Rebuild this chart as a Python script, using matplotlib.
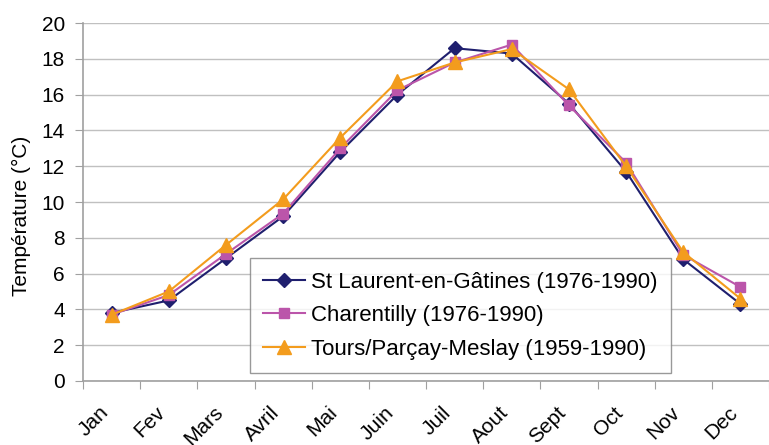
import matplotlib
matplotlib.use("Agg")
import matplotlib.pyplot as plt
import matplotlib.transforms as mtransforms

plt.rcParams['font.family'] = ['Liberation Sans', 'DejaVu Sans']

months = ['Jan', 'Fev', 'Mars', 'Avril', 'Mai', 'Juin', 'Juil', 'Aout', 'Sept', 'Oct', 'Nov', 'Dec']
st_laurent = [3.8, 4.5, 6.85, 9.2, 12.8, 16.0, 18.6, 18.3, 15.5, 11.7, 6.8, 4.3]
charentilly = [3.7, 4.8, 7.1, 9.35, 13.0, 16.25, 17.8, 18.8, 15.4, 12.2, 7.05, 5.25]
tours = [3.7, 5.0, 7.6, 10.15, 13.6, 16.75, 17.8, 18.55, 16.3, 12.0, 7.2, 4.6]

fig = plt.figure(figsize=(7.69, 4.45), dpi=100)
ax = fig.add_axes([0.108, 0.144, 0.892, 0.804])

x = list(range(len(months)))
ax.plot(x, st_laurent, color='#1f1f6e', marker='D', markersize=7, lw=1.5,
        label='St Laurent-en-Gâtines (1976-1990)')
ax.plot(x, charentilly, color='#bb55aa', marker='s', markersize=7, lw=1.5,
        label='Charentilly (1976-1990)')
ax.plot(x, tours, color='#f39c1d', marker='^', markersize=10, lw=1.5,
        label='Tours/Parçay-Meslay (1959-1990)')

ax.set_ylim(0, 20)
ax.set_yticks(range(0, 21, 2))
ax.set_xlim(-0.5, 11.26)
ax.set_xticks([i - 0.5 for i in range(13)])
ax.set_xticklabels([])
ax.tick_params(axis='x', length=6, color='#a0a0a0')
ax.tick_params(axis='y', length=6, color='#a0a0a0', labelsize=15, pad=7)

# month labels, rotated like the original
base = ax.get_xaxis_transform()
for i, m in enumerate(months):
    off = mtransforms.offset_copy(base, fig=fig, x=-13, y=-22, units='dots')
    ax.text(i, 0, m, transform=off, rotation=45, ha='right', va='top',
            rotation_mode='anchor', fontsize=15, clip_on=False)

ax.grid(axis='y', color='#c0c0c0', lw=1)
ax.set_axisbelow(True)
for s in ['top', 'right']:
    ax.spines[s].set_visible(False)
for s in ['left', 'bottom']:
    ax.spines[s].set_color('#a0a0a0')
    ax.spines[s].set_linewidth(1.2)

ax.set_ylabel('Température (°C)', fontsize=15)
ax.yaxis.set_label_coords(-0.076, 0.46)

leg = ax.legend(loc='lower left', bbox_to_anchor=(0.243, 0.022), fontsize=16,
                frameon=True, fancybox=False, edgecolor='#808080',
                handlelength=1.9, handletextpad=0.25, borderpad=0.6,
                labelspacing=0.56, borderaxespad=0)
leg.get_frame().set_linewidth(1)

fig.savefig('out.png', dpi=100)
